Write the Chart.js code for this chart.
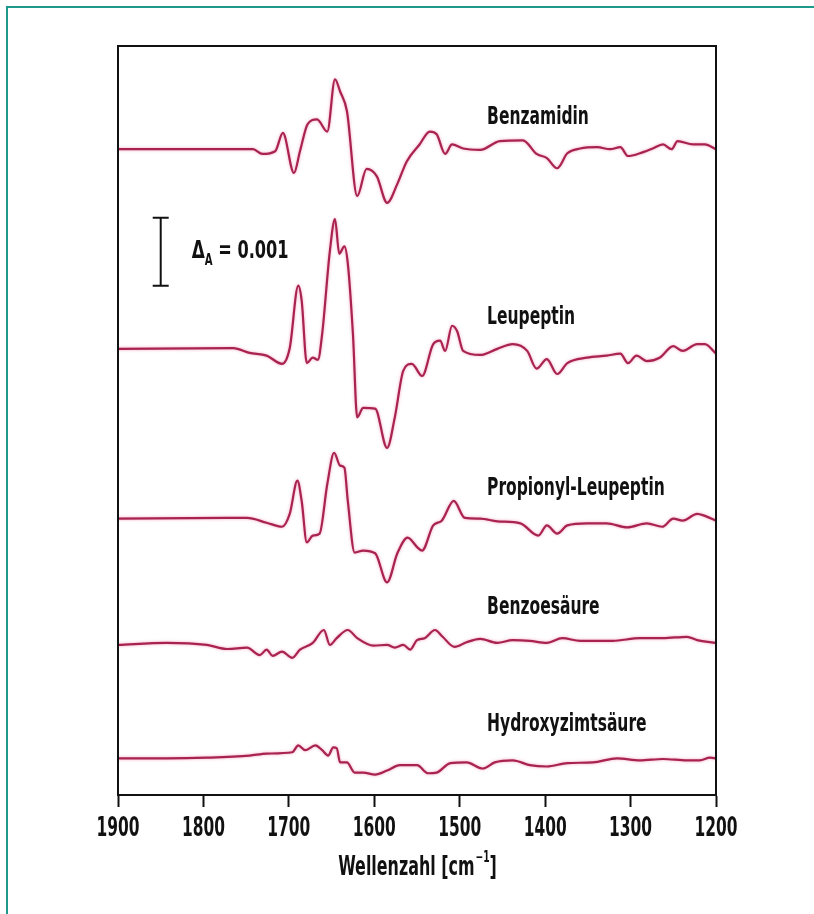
<!DOCTYPE html>
<html>
<head>
<meta charset="utf-8">
<script src="https://cdn.jsdelivr.net/npm/chart.js@4.4.1/dist/chart.umd.min.js"></script>
<style>
  body { margin: 0; background: #fff; }
  #rahmen { position: absolute; left: 6px; top: 6px; width: 820px; height: 920px;
            border-top: 2px solid #1e9a8c; border-left: 2px solid #1e9a8c; }
  canvas { position: absolute; left: 0; top: 0; }
</style>
</head>
<body>
<div id="rahmen"></div>
<canvas id="spektren" width="814" height="914"></canvas>
<script>
// Differenzspektren, Werte in Einheiten von 0.001 (Delta A) relativ zur Grundlinie
var namen = ["Benzamidin", "Leupeptin", "Propionyl-Leupeptin", "Benzoesäure", "Hydroxyzimtsäure"];
var grundlinie = [9.51, 6.57, 4.07, 2.21, 0.54];

var benzWelle = [1900,1742,1731,1716,1707,1694,1687,1678,1667,1655,1646,1640,1632,1620,1609,1597,1585,1573,1562,1547,1535,1527,1517,1509,1496,1476,1453,1426,1410,1398,1386,1374,1359,1339,1324,1312,1303,1289,1274,1262,1252,1245,1227,1213,1200];
var benzWert  = [0,0,-0.07,-0.03,0.24,-0.35,-0.03,0.37,0.44,0.26,1.03,0.85,0.56,-0.69,-0.29,-0.40,-0.79,-0.51,-0.18,0.07,0.26,0.22,-0.07,0.07,0.01,-0.01,0.12,0.13,-0.07,-0.13,-0.28,-0.06,0.01,0.03,0,0.03,-0.10,-0.06,0.01,0.07,0,0.12,0.07,0.07,0];

var leuWelle = [1900,1765,1746,1726,1708,1699,1689,1685,1679,1672,1666,1661,1652,1646,1641,1635,1631,1625,1620,1613,1599,1585,1576,1566,1556,1544,1531,1523,1517,1509,1503,1496,1476,1456,1438,1421,1410,1398,1386,1374,1351,1328,1312,1303,1293,1281,1266,1250,1239,1222,1213,1200];
var leuWert  = [0,0.01,-0.06,-0.10,-0.22,0.01,0.93,0.71,-0.21,-0.13,-0.16,0.22,1.44,1.91,1.40,1.51,1.26,0.22,-1.01,-0.87,-0.88,-1.46,-1.01,-0.32,-0.22,-0.40,0.07,0.12,-0.03,0.34,0.26,-0.03,-0.09,0,0.07,-0.03,-0.29,-0.15,-0.37,-0.21,-0.13,-0.10,-0.07,-0.21,-0.10,-0.18,-0.13,0.04,-0.03,0.07,0.07,-0.07];

var propWelle = [1900,1772,1749,1726,1708,1699,1690,1685,1679,1672,1664,1655,1647,1640,1635,1631,1623,1613,1599,1585,1573,1561,1549,1544,1531,1521,1507,1494,1476,1456,1429,1408,1398,1386,1374,1351,1328,1304,1281,1263,1250,1239,1222,1213,1200];
var propWert  = [0,0.01,0.01,-0.06,-0.12,0.07,0.56,0.26,-0.35,-0.25,-0.22,0.51,0.97,0.78,0.75,0.26,-0.50,-0.47,-0.51,-0.94,-0.51,-0.28,-0.43,-0.47,-0.10,-0.03,0.26,0.01,0,-0.04,-0.07,-0.25,-0.10,-0.22,-0.10,-0.07,-0.07,-0.13,-0.07,-0.12,0,-0.03,0.07,0.04,-0.03];

var bzsWelle = [1900,1843,1796,1772,1749,1734,1726,1719,1708,1696,1687,1672,1659,1652,1644,1631,1620,1601,1585,1576,1566,1558,1550,1541,1529,1520,1506,1492,1476,1456,1438,1418,1398,1380,1359,1321,1289,1262,1234,1222,1200];
var bzsWert  = [0,0.03,0,-0.06,-0.04,-0.15,-0.07,-0.16,-0.10,-0.19,-0.07,0.03,0.22,0,0.10,0.22,0.10,-0.01,0,-0.04,0,-0.07,0.07,0.10,0.22,0.12,-0.03,0.04,0.09,0.03,0.07,0.06,0.03,0.10,0.06,0.06,0.10,0.10,0.12,0.07,0.03];

var hzsWelle = [1900,1843,1796,1746,1726,1696,1689,1681,1669,1661,1654,1648,1644,1640,1632,1623,1613,1599,1585,1570,1550,1537,1527,1511,1492,1473,1459,1438,1418,1398,1374,1344,1316,1289,1262,1234,1219,1207,1200];
var hzsWert  = [0,0,0.01,0.04,0.07,0.09,0.19,0.12,0.19,0.12,0.04,0.16,0.15,-0.06,-0.06,-0.21,-0.21,-0.24,-0.18,-0.10,-0.10,-0.22,-0.21,-0.07,-0.06,-0.15,-0.06,-0.03,-0.10,-0.12,-0.07,-0.06,0,-0.03,-0.01,-0.03,-0.03,0.01,0];

var xTicks = [1900, 1800, 1700, 1600, 1500, 1400, 1300, 1200];

// Beschriftungen (Lage in Datenwerten)
var labelWelle = 1468;
var labelHoehe = [9.97, 7.03, 4.51, 2.76, 1.04];
var skalaWelle = 1850;
var skalaVon = 7.5, skalaBis = 8.5;

var SCHRIFT = '"Liberation Sans Narrow", "DejaVu Sans Condensed", "Arial Narrow", sans-serif';

var welle = [benzWelle, leuWelle, propWelle, bzsWelle, hzsWelle];
var werte = [benzWert, leuWert, propWert, bzsWert, hzsWert];

var datasets = namen.map(function (n, k) {
    return {
        label: n,
        data: welle[k].map(function (w, i) { return { x: w, y: grundlinie[k] + werte[k][i] }; }),
        borderColor: '#a82350',
        borderWidth: 2.2,
        pointRadius: 0,
        fill: false,
        cubicInterpolationMode: 'monotone'
    };
});

// schmale (gestauchte) Schrift wie im Original
function schmal(ctx, text, x, y, groesse, faktor, ausrichtung) {
    ctx.save();
    ctx.font = 'bold ' + groesse + 'px ' + SCHRIFT;
    ctx.textAlign = ausrichtung || 'left';
    ctx.textBaseline = 'middle';
    ctx.translate(x, y);
    ctx.scale(faktor, 1);
    ctx.fillText(text, 0, 0);
    var b = ctx.measureText(text).width * faktor;
    ctx.restore();
    return b;
}
function breite(ctx, text, groesse, faktor) {
    ctx.save();
    ctx.font = 'bold ' + groesse + 'px ' + SCHRIFT;
    var b = ctx.measureText(text).width * faktor;
    ctx.restore();
    return b;
}

var glanz = {
    id: 'glanz',
    beforeDatasetsDraw: function (chart) {
        chart.ctx.save();
        chart.ctx.shadowColor = 'rgba(235, 120, 160, 0.7)';
        chart.ctx.shadowBlur = 3;
    },
    afterDatasetsDraw: function (chart) {
        chart.ctx.restore();
    }
};

var beschriftung = {
    id: 'beschriftung',
    afterDraw: function (chart) {
        var ctx = chart.ctx, a = chart.chartArea;
        var sx = chart.scales.x, sy = chart.scales.y;
        ctx.save();
        // Rahmen um die Grafik
        ctx.strokeStyle = '#111';
        ctx.lineWidth = 2;
        ctx.strokeRect(a.left, a.top, a.right - a.left, a.bottom - a.top);
        ctx.fillStyle = '#111';

        // Achsenbeschriftung an den Ticks der x-Skala
        sx.ticks.forEach(function (t) {
            schmal(ctx, String(t.value), sx.getPixelForValue(t.value), a.bottom + 34, 26, 0.66, 'center');
        });

        // Achsentitel
        var t1 = 'Wellenzahl [cm', t2 = '\u22121', t3 = ']';
        var w1 = breite(ctx, t1, 26, 0.68), w2 = breite(ctx, t2, 15, 0.68), w3 = breite(ctx, t3, 26, 0.68);
        var tx = (a.left + a.right) / 2 - (w1 + w2 + w3) / 2, ty = a.bottom + 73;
        tx += schmal(ctx, t1, tx, ty, 26, 0.68);
        tx += schmal(ctx, t2, tx + 1, ty - 10, 15, 0.68) + 1;
        schmal(ctx, t3, tx, ty, 26, 0.68);

        // Namen der Spektren
        namen.forEach(function (n, k) {
            schmal(ctx, n, sx.getPixelForValue(labelWelle), sy.getPixelForValue(labelHoehe[k]), 25, 0.69);
        });

        // Skalenbalken Delta A = 0.001
        var bx = sx.getPixelForValue(skalaWelle);
        var y1 = sy.getPixelForValue(skalaBis), y2 = sy.getPixelForValue(skalaVon);
        ctx.lineWidth = 2;
        ctx.beginPath();
        ctx.moveTo(bx, y1); ctx.lineTo(bx, y2);
        ctx.moveTo(bx - 8, y1); ctx.lineTo(bx + 8, y1);
        ctx.moveTo(bx - 8, y2); ctx.lineTo(bx + 8, y2);
        ctx.stroke();

        var lx = bx + 31, ly = (y1 + y2) / 2;
        lx += schmal(ctx, 'Δ', lx, ly, 25, 0.75);
        lx += schmal(ctx, 'A', lx, ly + 9, 16, 0.7);
        schmal(ctx, ' = 0.001', lx, ly, 25, 0.72);
        ctx.restore();
    }
};

new Chart(document.getElementById('spektren').getContext('2d'), {
    type: 'line',
    data: { datasets: datasets },
    options: {
        responsive: false,
        animation: false,
        devicePixelRatio: 1,
        layout: { padding: { left: 118, right: 98, top: 46, bottom: 107 } },
        plugins: { legend: { display: false }, tooltip: { enabled: false } },
        scales: {
            x: {
                type: 'linear',
                reverse: true,
                min: 1200,
                max: 1900,
                afterBuildTicks: function (s) { s.ticks = xTicks.map(function (v) { return { value: v }; }); },
                ticks: { display: false },
                grid: { drawOnChartArea: false, drawTicks: true, tickLength: 12, tickColor: '#111', tickWidth: 2 },
                border: { display: true, color: '#111', width: 2 },
                title: { display: false, text: 'Wellenzahl [cm⁻¹]' }
            },
            y: { display: false, min: 0, max: 11.03 }
        }
    },
    plugins: [glanz, beschriftung]
});
</script>
</body>
</html>
